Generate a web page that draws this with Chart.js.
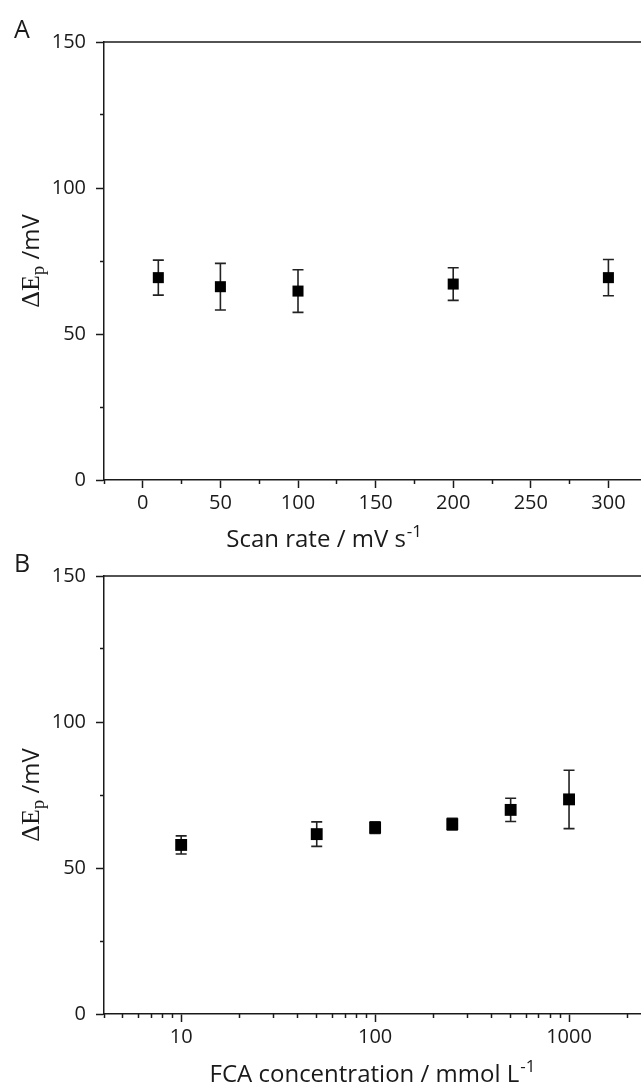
<!DOCTYPE html>
<html>
<head>
<meta charset="utf-8">
<script src="https://cdn.jsdelivr.net/npm/chart.js@4.4.0/dist/chart.umd.min.js"></script>
<style>
  html, body { margin: 0; padding: 0; background: #fff; }
  #wrap { position: relative; width: 641px; height: 1086px; overflow: hidden; }
  canvas { position: absolute; left: 0; }
  #chartA { top: 0; }
  #chartB { top: 543px; }
</style>
</head>
<body>
<div id="wrap">
  <canvas id="chartA" width="641" height="560"></canvas>
  <canvas id="chartB" width="641" height="543"></canvas>
</div>
<script>
// Panel A: peak separation vs scan rate
const scanRates = [10, 50, 100, 200, 300];
const scanDeltaEp = [69.3, 66.2, 64.7, 67.1, 69.3];
const scanErr = [6.0, 8.0, 7.3, 5.6, 6.2];
const scanMajorTicks = [0, 50, 100, 150, 200, 250, 300];
const scanMinorTicks = [-25, 25, 75, 125, 175, 225, 275];

// Panel B: peak separation vs FCA concentration
const fcaConc = [10, 50, 100, 250, 500, 1000];
const fcaDeltaEp = [57.9, 61.6, 63.8, 65.0, 69.9, 73.5];
const fcaErr = [3.1, 4.2, 2.0, 2.0, 4.0, 10.0];
const fcaMajorTicks = [10, 100, 1000];
const fcaMinorTicks = [4, 5, 6, 7, 8, 9, 20, 30, 40, 50, 60, 70, 80, 90,
                       200, 300, 400, 500, 600, 700, 800, 900, 2000];

const yMajorTicks = [0, 50, 100, 150];
const yMinorTicks = [25, 75, 125];

const ink = '#1a1a1a';
const sans = "'Open Sans', 'DejaVu Sans', sans-serif";
const serif = "'Liberation Serif', 'DejaVu Serif', serif";
const tickFont = { family: sans, size: 20 };

// ==================== PLUGIN: frame, error bars, titles ====================
const panelDecor = {
    id: 'panelDecor',
    beforeDatasetsDraw(chart, args, opts) {
        const ctx = chart.ctx;
        const xs = chart.scales.x, ys = chart.scales.y;
        ctx.save();
        ctx.strokeStyle = '#222';
        ctx.lineWidth = 1.6;
        chart.data.datasets.forEach(ds => {
            ds.data.forEach((p, i) => {
                const e = ds.errors[i];
                const px = xs.getPixelForValue(p.x);
                const top = ys.getPixelForValue(p.y + e);
                const bot = ys.getPixelForValue(p.y - e);
                const hw = opts.capHalf;
                ctx.beginPath();
                ctx.moveTo(px, top); ctx.lineTo(px, bot);
                ctx.moveTo(px - hw, top); ctx.lineTo(px + hw, top);
                ctx.moveTo(px - hw, bot); ctx.lineTo(px + hw, bot);
                ctx.stroke();
            });
        });
        ctx.restore();
    },
    afterDraw(chart, args, opts) {
        const ctx = chart.ctx, area = chart.chartArea;
        ctx.save();
        // top frame line
        ctx.strokeStyle = ink;
        ctx.lineWidth = 1.5;
        ctx.beginPath();
        ctx.moveTo(area.left, area.top);
        ctx.lineTo(area.right, area.top);
        ctx.stroke();

        ctx.fillStyle = ink;
        ctx.textBaseline = 'alphabetic';
        // panel letter
        ctx.font = `25px ${sans}`;
        ctx.textAlign = 'left';
        ctx.fillText(opts.letter, 14, opts.letterY);

        // x title with superscript
        const mainFont = `24px ${sans}`, supFont = `17px ${sans}`;
        ctx.font = mainFont;
        const w1 = ctx.measureText(opts.xTitle).width;
        ctx.font = supFont;
        const w2 = ctx.measureText(opts.xSup).width;
        const cx = area.left + (area.right - area.left) * opts.xTitleFrac;
        let x0 = cx - (w1 + w2 + 1) / 2;
        ctx.font = mainFont;
        ctx.fillText(opts.xTitle, x0, opts.xTitleY);
        ctx.font = supFont;
        ctx.fillText(opts.xSup, x0 + w1 + 1, opts.xTitleY - 10);

        // y title, rotated, with subscript p
        const parts = [
            { t: '\u0394E', f: `26px ${serif}`, dy: 0 },
            { t: 'p', f: `19px ${serif}`, dy: 5 },
            { t: ' /mV', f: `24px ${sans}`, dy: 0 }
        ];
        let total = 0;
        parts.forEach(p => { ctx.font = p.f; p.w = ctx.measureText(p.t).width; total += p.w; });
        ctx.translate(opts.yTitleX, (area.top + area.bottom) / 2);
        ctx.rotate(-Math.PI / 2);
        let px = -total / 2;
        parts.forEach(p => { ctx.font = p.f; ctx.fillText(p.t, px, p.dy); px += p.w; });
        ctx.restore();
    }
};

function noPad(s) {
    s.paddingLeft = 0; s.paddingRight = 0; s.paddingTop = 0; s.paddingBottom = 0;
}

function yScales() {
    return {
        y: {
            type: 'linear', position: 'left', min: 0, max: 150, weight: 1,
            afterBuildTicks: s => { s.ticks = yMajorTicks.map(v => ({ value: v })); },
            afterFit: s => { s.width = 104; noPad(s); },
            grid: { drawOnChartArea: false, tickLength: 8, color: ink, tickColor: ink, tickWidth: 1.5 },
            border: { display: true, color: ink, width: 1.5 },
            ticks: { color: ink, font: tickFont, padding: 10 }
        },
        yMinor: {
            type: 'linear', position: 'left', min: 0, max: 150, weight: 0,
            afterBuildTicks: s => { s.ticks = yMinorTicks.map(v => ({ value: v })); },
            afterFit: s => { s.width = 0; noPad(s); },
            grid: { drawOnChartArea: false, tickLength: 4, color: ink, tickColor: ink, tickWidth: 1.5 },
            border: { display: false },
            ticks: { display: false }
        }
    };
}

function xScales(type, min, max, major, minor, height) {
    return {
        x: {
            type: type, position: 'bottom', min: min, max: max, weight: 1,
            afterBuildTicks: s => { s.ticks = major.map(v => ({ value: v })); },
            afterFit: s => { s.height = height; noPad(s); },
            grid: { drawOnChartArea: false, tickLength: 8, color: ink, tickColor: ink, tickWidth: 1.5 },
            border: { display: true, color: ink, width: 1.5 },
            ticks: { color: ink, font: tickFont, padding: 3, maxRotation: 0, autoSkip: false, callback: v => String(v) }
        },
        xMinor: {
            type: type, position: 'bottom', min: min, max: max, weight: 0,
            afterBuildTicks: s => { s.ticks = minor.map(v => ({ value: v })); },
            afterFit: s => { s.height = 0; noPad(s); },
            grid: { drawOnChartArea: false, tickLength: 4, color: ink, tickColor: ink, tickWidth: 1.5 },
            border: { display: false },
            ticks: { display: false }
        }
    };
}

function makePanel(canvasId, xs, ys, errs, scalesX, decor, padTop, radius) {
    return new Chart(document.getElementById(canvasId), {
        type: 'scatter',
        data: {
            datasets: [{
                data: xs.map((v, i) => ({ x: v, y: ys[i] })),
                errors: errs,
                pointStyle: 'rect',
                pointRadius: radius,
                backgroundColor: '#000',
                borderWidth: 0,
                showLine: false,
                clip: false
            }]
        },
        options: {
            responsive: false,
            devicePixelRatio: 1,
            animation: false,
            layout: { autoPadding: false, padding: { top: padTop, left: 0, right: 0, bottom: 0 } },
            plugins: { legend: { display: false }, tooltip: { enabled: false }, panelDecor: decor },
            scales: Object.assign({}, scalesX, yScales())
        },
        plugins: [panelDecor]
    });
}

makePanel('chartA', scanRates, scanDeltaEp, scanErr,
    xScales('linear', -25, 321, scanMajorTicks, scanMinorTicks, 80),
    { letter: 'A', letterY: 38, xTitle: 'Scan rate / mV s', xSup: '-1', xTitleFrac: 0.41, xTitleY: 547, yTitleX: 39, capHalf: 5.5 },
    42, 7.8);

makePanel('chartB', fcaConc, fcaDeltaEp, fcaErr,
    xScales('logarithmic', 4, 2350, fcaMajorTicks, fcaMinorTicks, 72),
    { letter: 'B', letterY: 29, xTitle: 'FCA concentration / mmol L', xSup: '-1', xTitleFrac: 0.5, xTitleY: 539, yTitleX: 39, capHalf: 5.5 },
    33, 8.4);
</script>
</body>
</html>
